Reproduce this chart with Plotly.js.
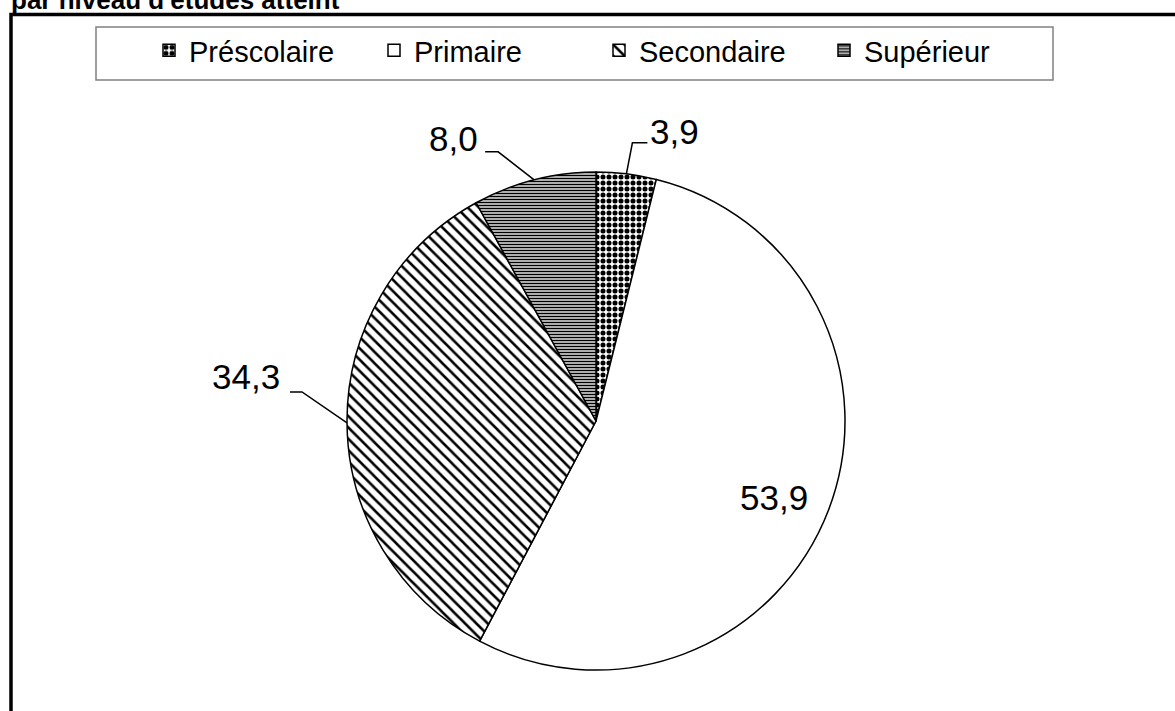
<!DOCTYPE html>
<html><head><meta charset="utf-8">
<script src="https://cdn.plot.ly/plotly-3.0.1.min.js"></script>
<style>html,body{margin:0;padding:0;background:#fff}</style>
</head><body><div id="chart" style="width:1175px;height:711px"></div>
<script>
// ---- data ----
const categories = ['Préscolaire', 'Primaire', 'Secondaire', 'Supérieur'];
const values = [3.9, 53.9, 34.3, 8.0];
const valueLabels = values.map(v => v.toFixed(1).replace('.', ','));
const titleText = "par niveau d'études atteint";

// ---- geometry / style ----
const W = 1175, H = 711;
const CX = 596, CY = 421, R = 249;
const FONT = 'Liberation Sans, Arial, sans-serif';
const patternShape = ['.', '', '\\', '-'];
const patternSize = [6, 8, 8, 3];
const patternSolid = [0.55, 0.0, 0.32, 0.55];
// label placement relative to the slice mid-arc point (pixels)
const labelStyle = [
  {kink: [6, -31], end: [21, -31], text: [22, -42], anchor: 'left'},
  {kink: null, end: null, text: [-55, -13], anchor: 'center'},
  {kink: [-45, -31], end: [-57, -31], text: [-65, -46], anchor: 'right'},
  {kink: [-36, -28], end: [-49, -28], text: [-54, -41], anchor: 'right'}
];

const px = x => x / W;
const py = y => 1 - y / H;

const total = values.reduce((a, b) => a + b, 0);
let cum = 0;
const annotations = [];
const shapes = [];
values.forEach((v, i) => {
  const f = (cum + v / 2) / total;
  cum += v;
  const ang = 2 * Math.PI * f;
  const ax = CX + R * Math.sin(ang), ay = CY - R * Math.cos(ang);
  const st = labelStyle[i];
  if (st.kink) {
    const k = [ax + st.kink[0], ay + st.kink[1]];
    const e = [ax + st.end[0], ay + st.end[1]];
    shapes.push({type: 'path', xref: 'paper', yref: 'paper',
      path: `M${px(ax)},${py(ay)} L${px(k[0])},${py(k[1])} L${px(e[0])},${py(e[1])}`,
      line: {color: 'black', width: 1.5}});
  }
  annotations.push({xref: 'paper', yref: 'paper', x: px(ax + st.text[0]), y: py(ay + st.text[1]),
    xanchor: st.anchor, yanchor: 'middle', showarrow: false, text: valueLabels[i],
    font: {family: FONT, size: 35, color: 'black'}});
});

annotations.push({xref: 'paper', yref: 'paper', x: px(9), y: 1.0, xanchor: 'left', yanchor: 'middle',
  showarrow: false, text: '<b>' + titleText + '</b>', font: {family: FONT, size: 26, color: 'black'}});

// outer frame and legend box
shapes.push({type: 'rect', xref: 'paper', yref: 'paper', x0: px(11), x1: px(1185), y0: py(725), y1: py(14.5),
  line: {color: 'black', width: 3.5}});
shapes.push({type: 'rect', xref: 'paper', yref: 'paper', x0: px(96), x1: px(1053), y0: py(80), y1: py(27),
  line: {color: '#808080', width: 1.5}});

const trace = {
  type: 'pie',
  labels: categories,
  values: values,
  sort: false,
  direction: 'clockwise',
  rotation: 0,
  textinfo: 'none',
  hoverinfo: 'none',
  domain: {x: [px(CX - R), px(CX + R)], y: [py(CY + R), py(CY - R)]},
  marker: {
    colors: ['white', 'white', 'white', 'white'],
    line: {color: 'black', width: 1.5},
    pattern: {shape: patternShape, size: patternSize, solidity: patternSolid,
      fgcolor: 'black', bgcolor: 'white', fillmode: 'replace'}
  }
};

const layout = {
  width: W, height: H,
  margin: {l: 0, r: 0, t: 0, b: 0},
  paper_bgcolor: 'white',
  font: {family: FONT, color: 'black'},
  showlegend: true,
  legend: {orientation: 'h', x: px(149), xanchor: 'left', y: py(25), yanchor: 'top',
    font: {family: FONT, size: 29, color: 'black'}, bgcolor: 'rgba(0,0,0,0)', borderwidth: 0,
    entrywidth: 180, entrywidthmode: 'pixels', traceorder: 'normal'},
  shapes: shapes,
  annotations: annotations
};

Plotly.newPlot('chart', [trace], layout, {displayModeBar: false, staticPlot: true});
</script></body></html>
